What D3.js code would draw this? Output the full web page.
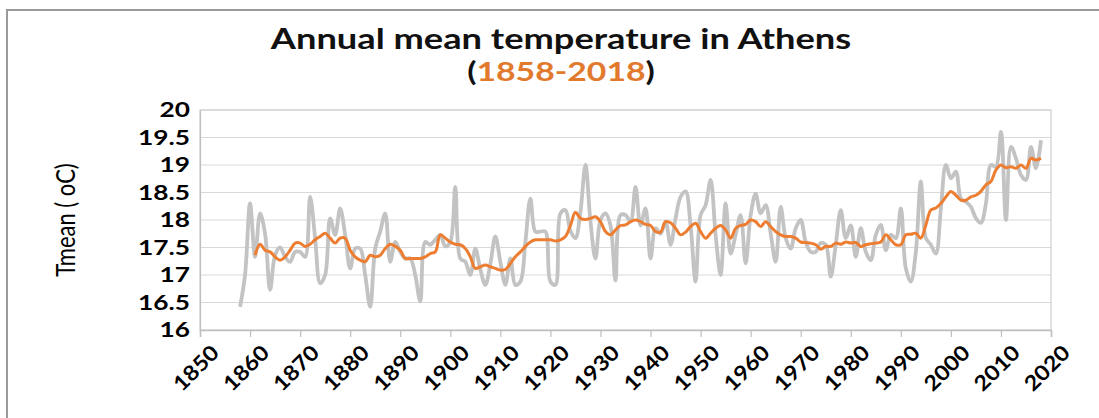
<!DOCTYPE html>
<html>
<head>
<meta charset="utf-8">
<script src="https://cdn.jsdelivr.net/npm/d3@7"></script>
<style>
  html, body { margin: 0; padding: 0; background: #fff; }
  svg { display: block; }
</style>
</head>
<body>
<svg id="chart" width="1099" height="418"></svg>
<script>
// Annual mean temperature, Athens (°C), one value per year 1858–2018
const firstYear = 1858;
const annualMean = [
  16.42, 17.00, 18.30, 17.33, 18.12, 17.75, 16.73, 17.36, 17.50, 17.33,
  17.24, 17.42, 17.42, 17.33, 18.42, 17.67, 16.85, 17.00, 18.03, 17.73,
  18.21, 17.73, 17.12, 17.48, 17.48, 17.00, 16.42, 17.48, 17.79, 18.12,
  17.24, 17.60, 17.42, 17.30, 17.30, 17.00, 16.52, 17.60, 17.55, 17.64,
  17.73, 17.52, 17.60, 18.60, 17.30, 17.24, 17.00, 17.48, 17.10, 16.82,
  17.20, 17.70, 17.24, 16.82, 17.30, 16.82, 16.88, 17.60, 18.39, 17.79,
  17.79, 17.79, 16.88, 16.82, 18.12, 18.18, 17.80, 17.67, 18.15, 19.00,
  17.97, 17.30, 18.00, 18.12, 17.90, 16.90, 18.09, 18.09, 17.97, 18.60,
  17.90, 18.21, 17.30, 17.85, 17.75, 17.97, 17.55, 18.03, 18.42, 18.52,
  17.90, 16.88, 18.09, 18.27, 18.73, 17.73, 17.00, 18.30, 17.39, 17.73,
  18.09, 17.21, 18.09, 18.48, 18.12, 18.27, 17.75, 17.24, 18.24, 17.67,
  17.48, 17.85, 18.00, 17.60, 17.42, 17.42, 17.58, 17.55, 16.97, 17.55,
  18.18, 17.67, 17.90, 17.33, 17.85, 17.42, 17.27, 17.73, 17.91, 17.45,
  17.73, 17.67, 18.21, 17.12, 16.88, 17.42, 18.70, 17.67, 17.55, 17.39,
  18.21, 19.00, 18.76, 18.88, 18.39, 18.33, 18.24, 18.03, 17.95, 18.30,
  19.00, 18.97, 19.60, 18.00, 19.33, 19.12, 18.82, 18.73, 19.33, 18.94,
  19.45
];

// Running mean (°C), one value per year 1861–2018
const smoothFirstYear = 1861;
const runningMean = [
  17.36, 17.56, 17.45, 17.42, 17.33, 17.27, 17.33, 17.45, 17.58, 17.58,
  17.52, 17.56, 17.64, 17.70, 17.76, 17.67, 17.58, 17.67, 17.67, 17.45,
  17.33, 17.27, 17.24, 17.36, 17.33, 17.36, 17.48, 17.56, 17.52, 17.45,
  17.30, 17.30, 17.30, 17.30, 17.33, 17.39, 17.42, 17.73, 17.67, 17.60,
  17.56, 17.55, 17.48, 17.33, 17.12, 17.15, 17.18, 17.15, 17.12, 17.09,
  17.10, 17.21, 17.33, 17.42, 17.52, 17.60, 17.64, 17.64, 17.64, 17.64,
  17.62, 17.64, 17.70, 17.90, 18.14, 18.03, 18.01, 18.03, 18.06, 17.97,
  17.79, 17.73, 17.82, 17.90, 17.91, 17.97, 18.00, 17.97, 17.92, 17.90,
  17.79, 17.78, 17.97, 17.95, 17.85, 17.73, 17.78, 17.88, 17.94, 17.79,
  17.67, 17.76, 17.85, 17.90, 17.82, 17.67, 17.85, 17.90, 17.92, 18.00,
  17.97, 17.88, 17.97, 17.88, 17.79, 17.73, 17.70, 17.70, 17.67, 17.60,
  17.59, 17.58, 17.55, 17.47, 17.52, 17.52, 17.58, 17.56, 17.60, 17.58,
  17.59, 17.52, 17.55, 17.57, 17.58, 17.60, 17.73, 17.64, 17.55, 17.55,
  17.73, 17.74, 17.76, 17.67, 17.91, 18.18, 18.22, 18.30, 18.42, 18.52,
  18.45, 18.36, 18.36, 18.42, 18.45, 18.52, 18.64, 18.70, 18.91, 19.00,
  18.95, 18.97, 18.94, 19.00, 18.94, 19.12, 19.09, 19.12
];

const xTicks = d3.range(1850, 2021, 10);
const yTicks = d3.range(16, 20.01, 0.5);

const titleText = "Annual mean temperature in Athens";
const periodText = "1858-2018";
const yLabel = "Tmean ( oC)";

const svg = d3.select("#chart");
const W = 1099, H = 418;
const plot = { left: 200, right: 1051, top: 110, bottom: 330 };
const font = "Lato, sans-serif";
const stretch = 1.25; // wide lettering used throughout the chart

// outer chart frame
svg.append("path")
  .attr("d", `M7,${H} L7,10 L${W},10`)
  .attr("fill", "none")
  .attr("stroke", "#9a9a9a")
  .attr("stroke-width", 2);

const x = d3.scaleLinear().domain([1850, 2020]).range([plot.left, plot.right]);
const y = d3.scaleLinear().domain([16, 20]).range([plot.bottom, plot.top]);

// horizontal gridlines
svg.append("g")
  .selectAll("line")
  .data(yTicks.filter(v => v > 16))
  .join("line")
  .attr("x1", plot.left).attr("x2", plot.right)
  .attr("y1", d => y(d)).attr("y2", d => y(d))
  .attr("stroke", "#d9d9d9")
  .attr("stroke-width", 1.2);

// plot area border
svg.append("rect")
  .attr("x", plot.left).attr("y", plot.top)
  .attr("width", plot.right - plot.left).attr("height", plot.bottom - plot.top)
  .attr("fill", "none")
  .attr("stroke", "#cfcfcf")
  .attr("stroke-width", 1.2);

// y axis
const yAxis = svg.append("g")
  .attr("transform", `translate(${plot.left},0)`)
  .call(d3.axisLeft(y).tickValues(yTicks).tickSize(0).tickPadding(10)
    .tickFormat(d => d3.format("")(d)));
yAxis.select(".domain").attr("stroke", "#bfbfbf").attr("stroke-width", 1.2);
yAxis.selectAll("text")
  .attr("font-family", font)
  .attr("font-weight", "bold")
  .attr("font-size", 21)
  .attr("fill", "#000")
  .attr("x", -10 / stretch)
  .attr("transform", `scale(${stretch},1)`);

// x axis
const xAxis = svg.append("g")
  .attr("transform", `translate(0,${plot.bottom})`)
  .call(d3.axisBottom(x).tickValues(xTicks).tickSize(7).tickFormat(d3.format("d")));
xAxis.select(".domain").attr("stroke", "#bfbfbf").attr("stroke-width", 1.5);
xAxis.selectAll(".tick line").attr("stroke", "#bfbfbf").attr("stroke-width", 1.2);
xAxis.selectAll("text")
  .attr("font-family", font)
  .attr("font-weight", "bold")
  .attr("font-size", 21)
  .attr("fill", "#000")
  .attr("text-anchor", "end")
  .attr("dy", null)
  .attr("y", 0)
  .attr("transform", "translate(20,24) rotate(-45) scale(1.12,1)");

// series
const annual = annualMean.map((v, i) => ({ year: firstYear + i, value: v }));
const smooth = runningMean.map((v, i) => ({ year: smoothFirstYear + i, value: v }));

const line = d3.line()
  .x(d => x(d.year))
  .y(d => y(d.value))
  .curve(d3.curveCatmullRom.alpha(0.5));

svg.append("path")
  .datum(annual)
  .attr("d", line)
  .attr("fill", "none")
  .attr("stroke", "#c3c3c3")
  .attr("stroke-width", 3.8)
  .attr("stroke-linejoin", "round");

svg.append("path")
  .datum(smooth)
  .attr("d", line)
  .attr("fill", "none")
  .attr("stroke", "#ed7d31")
  .attr("stroke-width", 3)
  .attr("stroke-linejoin", "round");

// titles
svg.append("text")
  .attr("transform", `translate(561,49) scale(${stretch},1)`)
  .attr("text-anchor", "middle")
  .attr("font-family", font)
  .attr("font-weight", "bold")
  .attr("font-size", 29)
  .attr("fill", "#111")
  .text(titleText);

const sub = svg.append("text")
  .attr("transform", `translate(561,81) scale(${stretch},1)`)
  .attr("text-anchor", "middle")
  .attr("font-family", font)
  .attr("font-weight", "bold")
  .attr("font-size", 27)
  .attr("fill", "#111");
sub.append("tspan").text("(");
sub.append("tspan").attr("fill", "#e27a2e").text(periodText);
sub.append("tspan").text(")");

// y axis title
svg.append("text")
  .attr("transform", `translate(75,${(plot.top + plot.bottom) / 2}) scale(${stretch},1) rotate(-90)`)
  .attr("text-anchor", "middle")
  .attr("font-family", font)
  .attr("font-size", 22)
  .attr("fill", "#000")
  .text(yLabel);
</script>
</body>
</html>
